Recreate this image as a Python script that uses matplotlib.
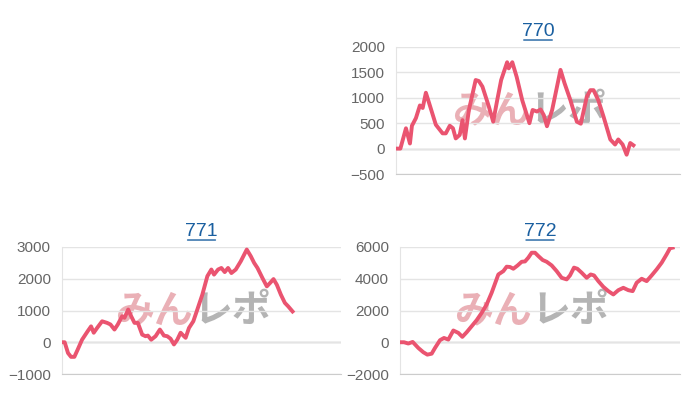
import matplotlib
matplotlib.use("Agg")
import matplotlib.pyplot as plt

# 770
x770 = [0, 1.1, 2.5, 3.5, 4, 5, 6, 6.7, 7.5, 8.3, 10, 11.7, 12.5, 13.5, 14.3, 15, 16, 16.7, 17.3, 18.3, 20, 20.8, 21.7, 23.3, 24.4, 25.4, 26.4, 27.9, 28.3, 29.2, 30.3, 31.7, 33.5, 34.3, 35.4, 36.3, 37.1, 37.9, 39.2, 41.3, 42.3, 43.8, 45.4, 46.4, 47.9, 48.8, 49.6, 50.8, 52.1, 53.8, 55, 55.8, 56.9, 57.9, 58.8, 59.6]
y770 = [0, 0, 400, 100, 450, 600, 850, 800, 1100, 900, 470, 300, 300, 450, 400, 200, 270, 560, 200, 760, 1350, 1330, 1220, 830, 530, 950, 1350, 1700, 1580, 1700, 1410, 950, 500, 760, 730, 770, 660, 440, 760, 1550, 1290, 950, 530, 490, 1020, 1150, 1150, 950, 630, 180, 80, 180, 80, -120, 110, 65]

# 771
y771 = [0, 0, -340, -460, -460, -230, 80, 350, 500, 300, 450, 660, 610, 560, 400, 560, 820, 770, 1030, 820, 610, 610, 240, 190, 210, 80, 190, 400, 210, 190, 110, -70, 80, 300, 190, 140, 450, 660, 1030, 1500, 2080, 2290, 2130, 2290, 2340, 2210, 2340, 2180, 2290, 2550, 2920, 2710, 2500, 2340, 2020, 1760, 1870, 1990, 1810, 1500, 1240, 1130, 970]
x771 = [0, 0.8, 1.8, 2.7, 3.7, 4.7, 6, 7.7, 8.7, 9.5, 10.5, 12, 13.5, 14.5, 15.7, 16.7, 18, 18.7, 19.8, 20.7, 21.7, 22.7, 24, 25, 25.7, 26.7, 28, 29.3, 30.5, 31.5, 32.5, 33.5, 34.5, 35.5, 36.5, 37, 38, 39.3, 40.5, 42, 43.5, 44.7, 45.5, 46.7, 47.7, 48.7, 49.7, 50.7, 52, 53.5, 55.3, 56.5, 57.5, 58.5, 60, 61.3, 62.3, 63.3, 64.3, 65.5, 66.7, 67.7, 69]

# 772
x772 = [0, 1.2, 2.5, 3.8, 5.5, 7, 8.2, 9.5, 10.5, 12, 13.2, 14.5, 16, 17.5, 18.7, 20, 21.5, 23, 24.5, 26, 27.5, 29.5, 31, 32, 33, 34, 35.3, 36.5, 37.5, 38.5, 39.5, 40.5, 41.5, 42.8, 44, 45.5, 47, 48.5, 50, 51, 52.2, 53.2, 54.5, 56, 57.2, 58.2, 59.5, 61, 62.5, 64, 65.5, 67, 68.5, 69.8, 71, 72.5, 73.5, 74, 75.5, 77, 78.5, 80, 81, 81.8]
y772 = [0, 0, -80, 20, -360, -630, -780, -720, -360, 130, 270, 170, 740, 590, 340, 630, 1010, 1390, 1850, 2380, 3120, 4270, 4480, 4760, 4740, 4630, 4840, 5070, 5090, 5330, 5640, 5640, 5430, 5180, 5070, 4840, 4480, 4060, 3960, 4210, 4700, 4630, 4380, 4060, 4270, 4210, 3850, 3490, 3220, 3010, 3280, 3430, 3280, 3220, 3750, 4000, 3900, 3850, 4210, 4590, 5010, 5540, 5920, 5960]

charts = [
    ("770", x770, y770, [396, 174, 284, 127], 71.3, (-500, 2000), [-500, 0, 500, 1000, 1500, 2000]),
    ("771", x771, y771, [62, 374, 279, 127], 83.5, (-1000, 3000), [-1000, 0, 1000, 2000, 3000]),
    ("772", x772, y772, [400, 374, 280, 127], 84, (-2000, 6000), [-2000, 0, 2000, 4000, 6000]),
]

plt.rcParams["font.family"] = ["Liberation Sans", "DejaVu Sans"]
fig = plt.figure(figsize=(7, 4), dpi=100)
W, H = 700, 400

for titulo, xs, ys, (l, b, w, h), xmax, ylim, ticks in charts:
    ax = fig.add_axes([l / W, (H - b) / H, w / W, h / H])
    # marca de agua
    ax.text(0.47, 0.5, "みん", transform=ax.transAxes, fontsize=28, fontweight="bold",
            color="#eab0b6", ha="right", va="center",
            family=["Noto Sans CJK JP", "DejaVu Sans"], zorder=0)
    ax.text(0.47, 0.5, "レポ", transform=ax.transAxes, fontsize=28, fontweight="bold",
            color="#b4b4b4", ha="left", va="center",
            family=["Noto Sans CJK JP", "DejaVu Sans"], zorder=0)
    ax.plot(xs, ys, color="#ea5470", linewidth=2.8, zorder=3)
    ax.set_xlim(0, xmax)
    ax.set_ylim(*ylim)
    ax.set_yticks(ticks)
    ax.set_xticks([])
    ax.grid(True, axis="y", color="#e4e4e4", linewidth=1)
    ax.axhline(0, color="#bbbbbb", linewidth=1, zorder=1)
    for s in ["top", "right"]:
        ax.spines[s].set_visible(False)
    ax.spines["left"].set_color("#e4e4e4")
    ax.spines["bottom"].set_color("#cccccc")
    ax.tick_params(axis="y", length=0, labelsize=11, labelcolor="#666666", pad=8)
    ax.set_title(titulo, fontsize=14, color="#1a5fa0", pad=8)
    ax.annotate("", xy=(0.44, 1.055), xytext=(0.56, 1.055), xycoords="axes fraction",
                arrowprops=dict(arrowstyle="-", color="#1a5fa0", linewidth=1))

fig.savefig("out.png", dpi=100)
